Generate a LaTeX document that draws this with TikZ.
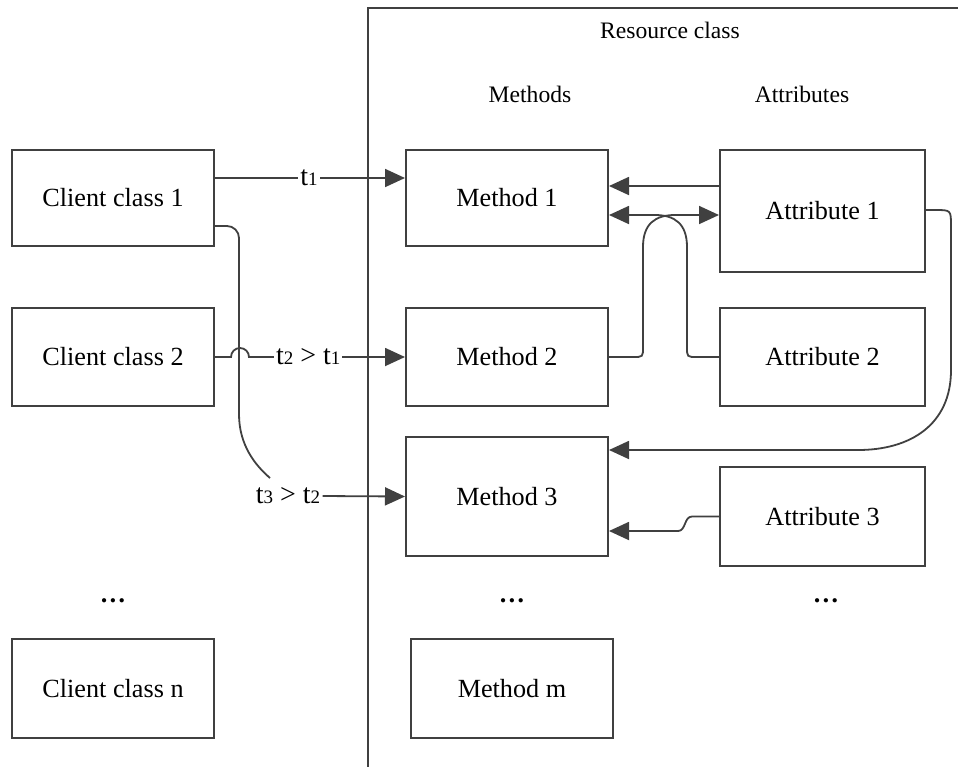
\documentclass[tikz,border=0pt]{standalone}
\usepackage{fontspec}
\setmainfont{Liberation Serif}
\usetikzlibrary{arrows.meta,calc}
\definecolor{ln}{RGB}{64,64,64}
\newcommand\tsub[1]{{\fontsize{9.5}{9.5}\selectfont #1}}
\begin{document}
\begin{tikzpicture}[x=0.5pt,y=-0.5pt,
 box/.style={draw=ln, line width=1pt, minimum width=101pt, inner sep=0pt, font=\fontsize{13.1}{15}\selectfont},
 head/.style={font=\fontsize{11.8}{14}\selectfont, inner sep=0pt},
 conn/.style={draw=ln, line width=0.9pt},
 arr/.style={conn, -{Triangle[length=10pt,width=9pt,fill=ln]}},
 lbl/.style={fill=white, inner sep=1pt, font=\fontsize{14}{15}\selectfont},
 dotsn/.style={font=\fontsize{13.1}{15}\selectfont\bfseries, inner sep=0pt}]
\useasboundingbox (0,0) rectangle (958,767);
% resource class frame
\draw[draw=ln, line width=1pt] (958,8) -- (368,8) -- (368,767);
\node[head] (rc) at (670,30) {Resource class};
\node[head] (mh) at (530,94) {Methods};
\node[head] (ah) at (802,94) {Attributes};
% boxes
\node[box, minimum height=48pt] (c1) at (113,198) {Client class 1};
\node[box, minimum height=49pt] (c2) at (113,357) {Client class 2};
\node[box, minimum height=49.5pt] (cn) at (113,688.5) {Client class n};
\node[box, minimum height=48pt] (m1) at (507,198) {Method 1};
\node[box, minimum height=49pt] (m2) at (507,357) {Method 2};
\node[box, minimum height=59.5pt] (m3) at (507,496.5) {Method 3};
\node[box, minimum height=49.5pt] (mm) at (512,688.5) {Method m};
\node[box, minimum width=102.5pt, minimum height=61pt] (a1) at (822.5,211) {Attribute 1};
\node[box, minimum width=102.5pt, minimum height=49pt] (a2) at (822.5,357) {Attribute 2};
\node[box, minimum width=102.5pt, minimum height=49.5pt] (a3) at (822.5,516.5) {Attribute 3};
% dots
\node[dotsn] (d1) at (113,601) {\ldots};
\node[dotsn] (d2) at (512,601) {\ldots};
\node[dotsn] (d3) at (826,601) {\ldots};
% client connectors
\draw[arr] ($(c1.east)+(0,-20)$) -- node[lbl, pos=0.495] (t1) {t\tsub{1}} ($(m1.west)+(0,-20)$);
\draw[arr] (c2.east) -- (231,357) arc[start angle=180, end angle=360, radius=9]
  -- node[lbl, pos=0.38] (t2) {t\tsub{2} > t\tsub{1}} (m2.west);
\node[lbl, fill=none] (t3) at (288,496) {t\tsub{3} > t\tsub{2}};
\coordinate (c1end) at (270,478);
\draw[conn, rounded corners=6pt] ($(c1.east)+(0,28)$) -- (239,226) -- (239,415);
\draw[conn] (239,414) .. controls (239,445) and (255,465) .. (c1end);
\draw[arr] (t3.east) -- (m3.west);
% attribute connectors
\draw[arr] ($(a1.west)+(0,-25)$) -- ($(m1.east)+(0,-12)$);
\draw[arr] (a2.west) -- (697,357) .. controls (687,357) .. (687,347) -- (687,247)
  .. controls (687,224) and (675,215) .. (655,215) -- ($(m1.east)+(0,17)$);
\draw[arr] (m2.east) -- (633,357) .. controls (643,357) .. (643,347) -- (643,247)
  .. controls (643,224) and (655,215) .. (675,215) -- ($(a1.west)+(0,4)$);
\draw[arr] ($(a1.east)+(0,-1)$) -- (935,210) .. controls (951,210) .. (951,226) -- (951,370)
  .. controls (951,425) and (910,450) .. (858,450) -- ($(m3.east)+(0,-46.5)$);
\draw[arr] (a3.west) -- (692,516.5) .. controls (684,516.5) and (686,531) .. (678,531) -- ($(m3.east)+(0,34.5)$);
\end{tikzpicture}
\end{document}
